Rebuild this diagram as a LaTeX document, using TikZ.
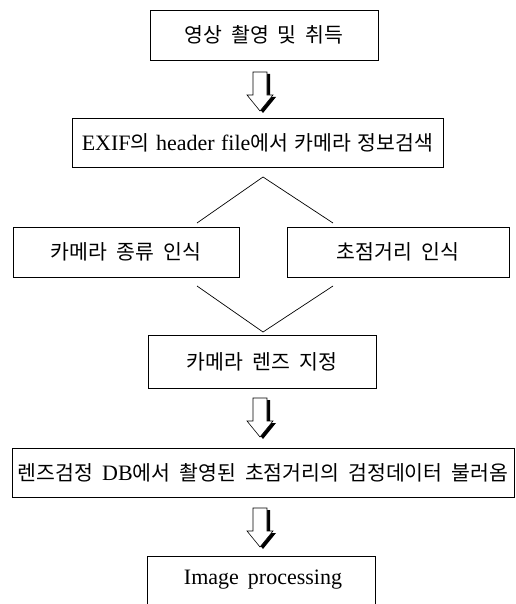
\documentclass[tikz,border=0pt]{standalone}
\usepackage{fontspec}
\setmainfont{Liberation Serif}
\newfontfamily\krfont{Noto Sans CJK KR}
\newcommand\K[1]{{\krfont\fontsize{20.5}{24}\selectfont #1}}
\newcommand\boxfont{\fontsize{22}{25}\selectfont\spaceskip=9pt\relax}
\begin{document}
\begin{tikzpicture}[x=1pt,y=-1pt,
  box/.style={draw,line width=0.9pt,minimum height=50pt,inner sep=0pt,font=\boxfont},
  conn/.style={line width=0.7pt},
  pics/blockarr/.style={code={
    \fill[black] (3,-37) -- (10,-37) -- (10,-14) -- (16,-14) -- (3,2) -- (-10,-14) -- (-4,-14) -- cycle;
    \filldraw[fill=white,draw=black,line width=0.6pt]
      (-7,-39) -- (7,-39) -- (7,-16) -- (13,-16) -- (0,0) -- (-13,-16) -- (-7,-16) -- cycle;
  }}]
\useasboundingbox (0,0) rectangle (515,604);
\clip (0,0) rectangle (515,604);

\node[box,minimum width=228pt] (b1) at (264,35) {\K{영상 촬영 및 취득}};
\node[box,minimum width=371pt,minimum height=49pt] (b2) at (257.5,142.5) {\spaceskip=6.5pt\relax EXIF\K{의} header file\K{에서 카메라 정보검색}};
\node[box,minimum width=226pt] (b3) at (126,252) {\K{카메라 종류 인식}};
\node[box,minimum width=222pt] (b4) at (398,252) {\K{초점거리 인식}};
\node[box,minimum width=228pt,minimum height=53pt] (b5) at (262,361.5) {\K{카메라 렌즈 지정}};
\node[box,minimum width=502pt,minimum height=49pt] (b6) at (263,472.5) {\K{렌즈검정} DB\K{에서 촬영된 초점거리의 검정데이터 불러옴}};
\node[box,minimum width=228pt,minimum height=64pt] (b7) at (261,588) {};
\node[font=\boxfont] (b7t) at (263,580) {Image processing};

\coordinate (t1) at (263,177);
\coordinate (l1) at (197,223);
\coordinate (r1) at (333,223);
\coordinate (l2) at (197,286);
\coordinate (r2) at (333,286);
\coordinate (t2) at (263,332);
\draw[conn] (l1) -- (t1) -- (r1);
\draw[conn] (l2) -- (t2) -- (r2);

\pic at (260,111) {blockarr};
\pic at (260,437) {blockarr};
\pic at (260,547) {blockarr};
\end{tikzpicture}
\end{document}
